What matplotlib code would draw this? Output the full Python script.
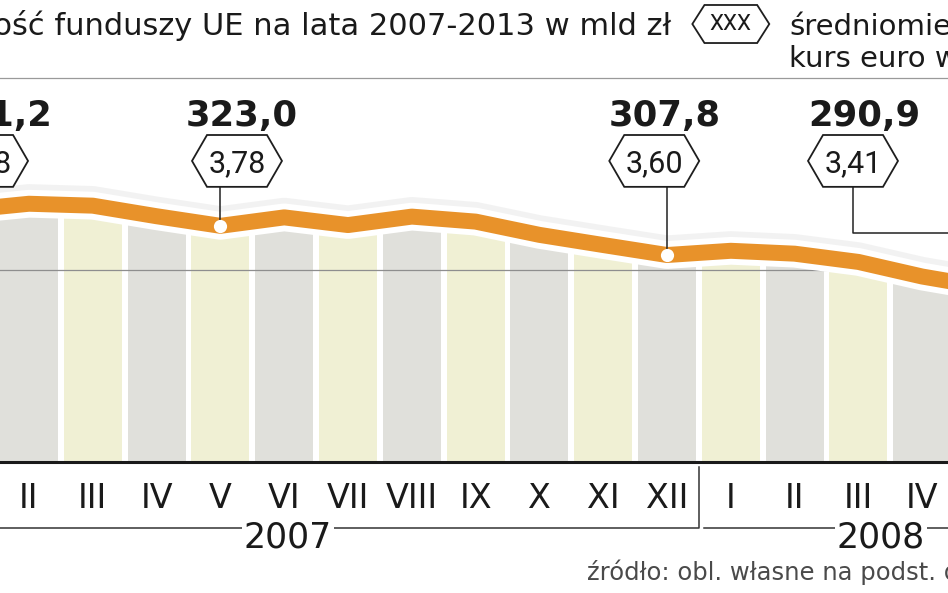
import numpy as np
import matplotlib.pyplot as plt
from matplotlib.patches import Polygon

# data (mld zl), I 2007 .. V 2008
months = ["I", "II", "III", "IV", "V", "VI", "VII", "VIII", "IX", "X", "XI", "XII",
          "I", "II", "III", "IV", "V"]
funds = [331.2, 334.5, 333.5, 328.0, 323.0, 327.4, 323.4, 327.8, 325.2, 318.3,
         313.0, 307.8, 310.0, 308.5, 304.2, 296.6, 290.9]
years = ["2007", "2008"]
labelled = [0, 4, 11, 16]
euro_rate = ["3,88", "3,78", "3,60", "3,41"]

ORANGE = "#e8922a"
GREY_COL = "#e0e0db"
YELL_COL = "#f0f0d4"

x = np.arange(len(months))
y = np.array(funds)

fig = plt.figure(figsize=(9.48, 5.93), dpi=100)
ax = fig.add_axes([0, 0, 1, 1])
ax.axis("off")
ax.set_xlim(0.5455, 15.404)
ax.set_ylim(131.8, 440.6)

# columns, cut off under the line
cols = [YELL_COL if k % 2 == 0 else GREY_COL for k in x]
bars = ax.bar(x, 250, bottom=200, width=0.91, color=cols, zorder=1)
area = ax.fill_between(x, 200, y, color="none")
clip = area.get_paths()[0]
for b in bars:
    b.set_clip_path(clip, ax.transData)

ax.axhline(300, color="#8e8e8e", lw=0.9, zorder=2)
ax.axhline(400, color="#9a9a9a", lw=0.9, zorder=2)

# the line: soft shadow, white casing, orange band
ax.plot(x, y + 3.0, color="#9a9a9a", lw=20, alpha=0.12, solid_joinstyle="round", zorder=3)
ax.plot(x, y, color="white", lw=20, solid_joinstyle="round", zorder=4)
ax.plot(x, y, color=ORANGE, lw=11.5, solid_joinstyle="round", zorder=5)
ax.plot(x[labelled], y[labelled], "o", color="white", ms=9.5, mec="none", zorder=7)

ax.axhline(200, color="#1a1a1a", lw=2.2, zorder=6)


def hexagon(cx, cy, hw, hh, tip):
    pts = [(cx - hw, cy), (cx - hw + tip, cy + hh), (cx + hw - tip, cy + hh),
           (cx + hw, cy), (cx + hw - tip, cy - hh), (cx - hw + tip, cy - hh)]
    ax.add_patch(Polygon(pts, closed=True, fc="white", ec="#1e1e1e", lw=1.3, zorder=8))


# value labels with euro rate hexagons
hex_off = [0.28, 0.26, -0.20, -2.085]
txt_off = [0.50, 0.34, -0.03, -1.91]
hex_y, hex_hh = 356.8, 13.5
for k, idx in enumerate(labelled):
    px = x[idx]
    hx = px + hex_off[k]
    ax.text(px + txt_off[k], 375, f"{funds[idx]:.1f}".replace(".", ","),
            ha="center", va="baseline", fontsize=25.5, fontweight="bold",
            color="#1a1a1a", zorder=9)
    hexagon(hx, hex_y, 0.705, hex_hh, 0.235)
    ax.text(hx, 351.0, euro_rate[k], ha="center", va="baseline", fontsize=22,
            family="Roboto", color="#1a1a1a", zorder=9)
    if abs(hex_off[k]) < 1:
        ax.plot([px, px], [hex_y - hex_hh, funds[idx]], color="#222", lw=1.1, zorder=6)
    else:
        ax.plot([hx, hx, px, px], [hex_y - hex_hh, 319.3, 319.3, funds[idx]],
                color="#222", lw=1.1, zorder=6)

# month ticks and year brackets
for k, m in enumerate(months):
    ax.text(x[k], 176.0, m, ha="center", va="baseline", fontsize=24, color="#1a1a1a")

split = 11.5
ax.plot([0.5, split, split], [165.6, 165.6, 197.4], color="#333", lw=1.1)
ax.plot([split + 0.08, 15.5], [165.6, 165.6], color="#333", lw=1.1)
for yr, xpos in zip(years, [5.06, 14.35]):
    ax.text(xpos, 155.7, yr, ha="center", va="baseline", fontsize=25, color="#1a1a1a",
            bbox=dict(fc="white", ec="none", pad=1.5))

# header
ax.text(11.06, 422.4, "Wartość funduszy UE na lata 2007-2013 w mld zł",
        ha="right", va="baseline", fontsize=22, color="#1a1a1a")
hexagon(12.0, 428.1, 0.603, 9.9, 0.19)
ax.text(12.0, 428.1, "XXX", ha="center", va="center", fontsize=16, family="Roboto",
        color="#1a1a1a", zorder=9)
ax.text(12.91, 422.4, "średniomiesięczny", ha="left", va="baseline", fontsize=21,
        color="#1a1a1a")
ax.text(12.91, 405.7, "kurs euro w zł", ha="left", va="baseline", fontsize=21,
        color="#1a1a1a")

ax.text(9.746, 138.5, "źródło: obl. własne na podst. danych NBP", ha="left",
        va="baseline", fontsize=17.5, color="#4a4a4a")

fig.savefig("out.png", dpi=100)
